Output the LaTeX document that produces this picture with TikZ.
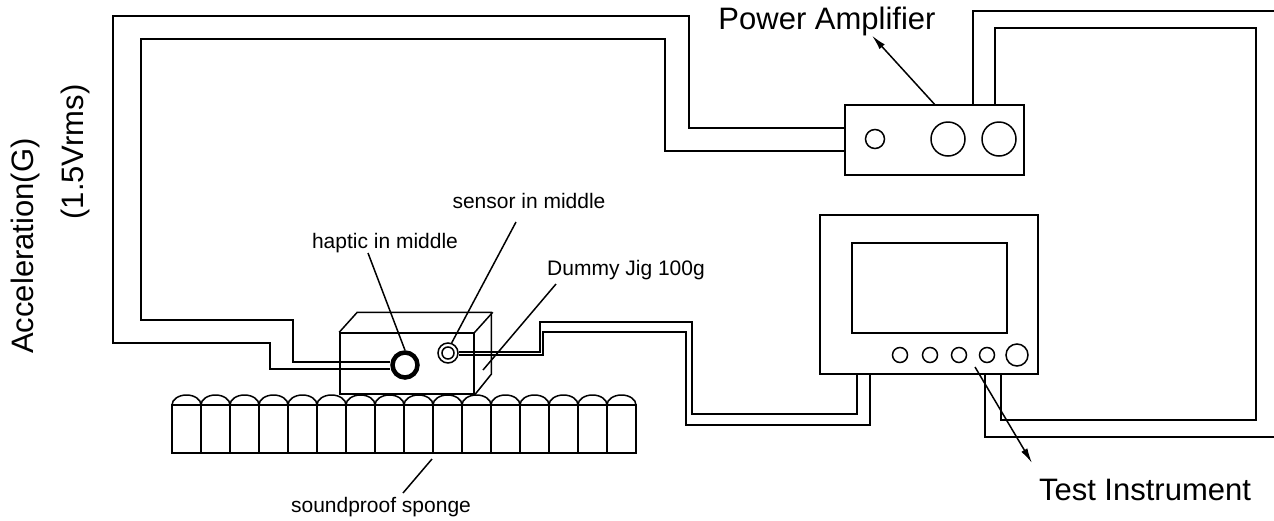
\documentclass[tikz,border=0pt]{standalone}
\usepackage{fontspec}
\setmainfont{Liberation Sans}
\usetikzlibrary{arrows.meta}
\tikzstyle{box} = [draw,rectangle,inner sep=0pt,line width=1.5pt]
\tikzstyle{knob} = [draw,circle,inner sep=0pt,line width=1.5pt]
\tikzstyle{wire} = [line width=1.5pt]
\tikzstyle{pointer} = [line width=1.5pt]
\tikzstyle{big} = [font=\fontsize{31}{37}\selectfont,inner sep=0pt]
\tikzstyle{small} = [font=\fontsize{21}{25}\selectfont,inner sep=0pt]

\begin{document}
\begin{tikzpicture}[x=1pt,y=-1pt,>={Latex[length=15pt,width=7pt]}]
		\useasboundingbox (0,0) rectangle (1274,520);
		\node [box,minimum width=179pt,minimum height=70pt](amp) at (934.5,140) {};
		\node [knob,minimum size=19pt] at (875,139) {};
		\node [knob,minimum size=34pt] at (948,139) {};
		\node [knob,minimum size=34pt] at (999,139) {};
		\node [box,minimum width=218pt,minimum height=159pt](scope) at (929,294.5) {};
		\node [box,minimum width=155pt,minimum height=90pt](screen) at (929.5,288) {};
		\foreach \x in {900,930,959,987}
			\node [knob,minimum size=15pt] at (\x,355) {};
		\node [knob,minimum size=22pt](dial) at (1017,355) {};
		\node [box,minimum width=134pt,minimum height=61pt](jig) at (407,363.5) {};
		\draw[wire](jig.north west)--++(18,-20)--++(134,0)--++(0,62)--(jig.south east);
		\draw[wire](jig.north east)--++(18,-20);
		\node [knob,line width=4.5pt,minimum size=25pt](haptic) at (405,365) {};
		\node [knob,minimum size=20pt](sensor) at (448,353) {};
		\node [knob,minimum size=12pt] at (448,353) {};
		\foreach \i in {0,...,15}{
			\draw[wire](172+29*\i,405) rectangle ++(29,48);
			\draw[wire](172+29*\i,405) arc[start angle=180,end angle=360,x radius=14.5,y radius=10];
		}

		\draw[wire](haptic.west |- 0,369)--(270,369)--(270,343)--(113,343)--(113,16)--(689,16)--(689,128)--(amp.west |- 0,128);
		\draw[wire](haptic.west |- 0,362)--(293,362)--(293,320)--(141,320)--(141,39)--(665,39)--(665,151)--(amp.west |- 0,151);
		\draw[wire](sensor.east |- 0,352)--(540,352)--(540,322)--(692,322)--(692,414)--(857,414)--(scope.south -| 857,0);
		\draw[wire](sensor.east |- 0,355)--(543,355)--(543,332)--(686,332)--(686,425)--(870,425)--(scope.south -| 870,0);
		\draw[wire](scope.south -| 985,0)--(985,437)--(1274,437);
		\draw[wire](scope.south -| 1001,0)--(1001,420)--(1256,420)--(1256,28)--(995,28)--(amp.north -| 995,0);
		\draw[wire](1274,11)--(973,11)--(amp.north -| 973,0);

		\node [big,anchor=base](amplbl) at (827,29) {Power Amplifier};
		\node [big,anchor=base](scopelbl) at (1145,500) {Test Instrument};
		\node [big,anchor=base,rotate=90](acclbl) at (33,246) {Acceleration(G)};
		\node [big,anchor=base,rotate=90](vlbl) at (83,152) {(1.5Vrms)};
		\node [small,anchor=base](hapticlbl) at (385,248) {haptic in middle};
		\node [small,anchor=base](sensorlbl) at (529,208) {sensor in middle};
		\node [small,anchor=base west](jiglbl) at (547,275) {Dummy Jig 100g};
		\node [small,anchor=base](spongelbl) at (381,512) {soundproof sponge};

		\coordinate (h0) at (368,253);
		\coordinate (s0) at (516,222);
		\coordinate (j0) at (556,284);
		\coordinate (j1) at (483,370);
		\coordinate (p0) at (432,459);
		\coordinate (p1) at (403,493);
		\coordinate (t0) at (975,367);
		\draw[pointer](h0)--(haptic.north);
		\draw[pointer](s0)--(sensor.70);
		\draw[pointer](j0)--(j1);
		\draw[pointer](p0)--(p1);
		\draw[pointer,->](amp.north)--(amplbl.south -| 872,0);
		\draw[pointer,->](t0)--(1032,463);
\end{tikzpicture}
\end{document}
